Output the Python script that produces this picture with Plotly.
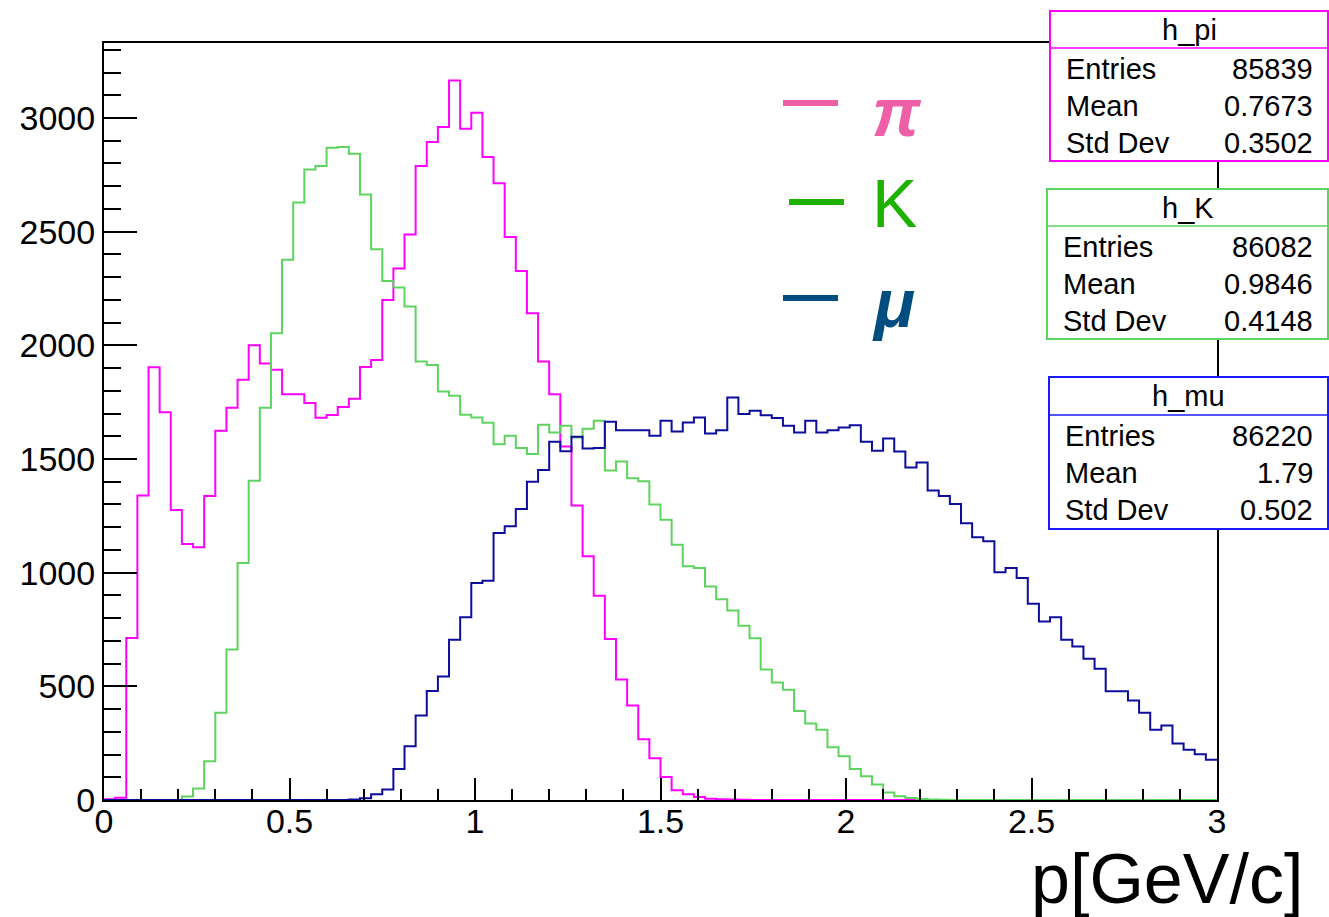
import numpy as np
import plotly.graph_objects as go

# ---------------- data ----------------
x_min, x_max, n_bins = 0.0, 3.0, 100

pi_counts = [3, 10, 713, 1340, 1904, 1706, 1276, 1126, 1112, 1337,
             1624, 1725, 1849, 2000, 1920, 1893, 1785, 1785, 1746, 1681,
             1694, 1729, 1765, 1905, 1935, 2200, 2338, 2488, 2789, 2895,
             2960, 3165, 2953, 3023, 2828, 2713, 2477, 2327, 2141, 1929,
             1785, 1555, 1295, 1072, 899, 708, 530, 416, 267, 184,
             101, 43, 25, 13, 6, 3, 2, 1, 0, 0,
             0, 0, 0, 0, 0, 0, 0, 0, 0, 0,
             0, 0, 0, 0, 0, 0, 0, 0, 0, 0,
             0, 0, 0, 0, 0, 0, 0, 0, 0, 0,
             0, 0, 0, 0, 0, 0, 0, 0, 0, 0]

k_counts = [0, 0, 0, 0, 0, 0, 0, 15, 51, 171,
            384, 662, 1043, 1404, 1725, 2053, 2376, 2628, 2774, 2789,
            2869, 2872, 2843, 2664, 2423, 2283, 2254, 2171, 1929, 1914,
            1797, 1778, 1695, 1683, 1660, 1565, 1602, 1548, 1522, 1651,
            1617, 1646, 1595, 1633, 1668, 1449, 1489, 1415, 1402, 1300,
            1233, 1123, 1028, 1021, 939, 883, 834, 766, 712, 574,
            517, 485, 391, 336, 309, 232, 192, 136, 104, 68,
            33, 16, 9, 4, 2, 1, 0, 0, 0, 0,
            0, 0, 0, 0, 0, 0, 0, 0, 0, 0,
            0, 0, 0, 0, 0, 0, 0, 0, 0, 0]

mu_counts = [0, 0, 0, 0, 0, 0, 0, 0, 0, 0,
             0, 0, 0, 0, 0, 0, 0, 0, 0, 0,
             0, 0, 2, 8, 25, 46, 136, 236, 372, 479,
             543, 705, 804, 955, 965, 1175, 1204, 1280, 1400, 1452,
             1576, 1534, 1598, 1546, 1548, 1664, 1627, 1627, 1627, 1602,
             1668, 1621, 1661, 1683, 1612, 1627, 1771, 1698, 1712, 1693,
             1680, 1646, 1617, 1668, 1617, 1627, 1639, 1649, 1576, 1536,
             1590, 1533, 1463, 1485, 1361, 1337, 1302, 1217, 1156, 1138,
             1002, 1021, 977, 863, 785, 804, 705, 675, 621, 577,
             478, 478, 438, 384, 309, 328, 248, 221, 201, 177]

hist_names = ["h_pi", "h_K", "h_mu"]
hist_colors = ["#ff00ff", "#5fd35f", "#0d0d9c"]
box_colors = ["#ff00ff", "#5fd35f", "#1a1aff"]
stat_labels = ["Entries", "Mean", "Std Dev"]
stat_values = [["85839", "0.7673", "0.3502"],
               ["86082", "0.9846", "0.4148"],
               ["86220", "1.79", "0.502"]]

legend_symbols = ["<i><b>π</b></i>", "K", "<i><b>μ</b></i>"]
legend_colors = ["#ef5fa7", "#1db100", "#004d80"]

x_ticks = [0, 0.5, 1, 1.5, 2, 2.5, 3]
x_ticktext = ["0", "0.5", "1", "1.5", "2", "2.5", "3"]
y_ticks = [0, 500, 1000, 1500, 2000, 2500, 3000]
x_title = "p[GeV/c]"

# ---------------- layout geometry (pixels) ----------------
W, H = 1329, 917
PL, PR, PT, PB = 104, 1217, 43, 800  # plot area in pixels


def px(xp):
    return (xp - PL) / (PR - PL)


def py(yp):
    return (PB - yp) / (PB - PT)


edges = np.linspace(x_min, x_max, n_bins + 1)

fig = go.Figure()
for name, counts, col in zip(hist_names, [pi_counts, k_counts, mu_counts], hist_colors):
    yv = list(counts) + [counts[-1]]
    fig.add_trace(go.Scatter(
        x=edges, y=yv, mode="lines", line=dict(color=col, width=2, shape="hv"),
        name=name, showlegend=False, hoverinfo="skip"))

font_fam = "Liberation Sans, Arial, sans-serif"

fig.update_layout(
    width=W, height=H, autosize=False,
    margin=dict(l=PL, r=W - PR, t=PT, b=H - PB, pad=0),
    paper_bgcolor="white", plot_bgcolor="white",
    font=dict(family=font_fam, color="black", size=34),
    xaxis=dict(range=[x_min, x_max], tickvals=x_ticks, ticktext=x_ticktext,
               ticks="inside", ticklen=22, tickwidth=1.5, tickcolor="black",
               minor=dict(ticks="inside", ticklen=11, dtick=0.1, tickwidth=1.5, tickcolor="black"),
               showline=True, linecolor="black", linewidth=2, mirror=True,
               showgrid=False, zeroline=False, ticklabelstandoff=-10,
               tickfont=dict(size=34, family=font_fam)),
    yaxis=dict(range=[0, 3330], tickvals=y_ticks,
               ticks="inside", ticklen=33, tickwidth=1.5, tickcolor="black",
               minor=dict(ticks="inside", ticklen=17, dtick=100, tickwidth=1.5, tickcolor="black"),
               showline=True, linecolor="black", linewidth=2, mirror=True,
               showgrid=False, zeroline=False,
               tickfont=dict(size=34, family=font_fam)),
)

shapes = []
annotations = []

# x-axis title
annotations.append(dict(xref="paper", yref="paper", x=px(1305), y=py(879),
                        xanchor="right", yanchor="middle", text=x_title, showarrow=False,
                        font=dict(size=70, family=font_fam, color="black")))

# stat boxes
boxes = [  # (left, top, bottom, separator) in pixels
    (1050, 11, 161, 48),
    (1047, 189, 339, 226),
    (1049, 377, 529, 415),
]
row_offsets = [21, 58, 95]
for (l, t, b, sep), name, col, vals in zip(boxes, hist_names, box_colors, stat_values):
    r = 1328
    shapes.append(dict(type="rect", xref="paper", yref="paper", layer="above",
                       x0=px(l), x1=px(r), y0=py(b), y1=py(t),
                       fillcolor="white", line=dict(color=col, width=2)))
    shapes.append(dict(type="line", xref="paper", yref="paper", layer="above",
                       x0=px(l), x1=px(r), y0=py(sep), y1=py(sep),
                       line=dict(color=col, width=1.5)))
    annotations.append(dict(xref="paper", yref="paper", x=px((l + r) / 2), y=py((t + sep) / 2),
                            xanchor="center", yanchor="middle", text=name, showarrow=False,
                            font=dict(size=29, family=font_fam, color="black")))
    for lab, val, off in zip(stat_labels, vals, row_offsets):
        annotations.append(dict(xref="paper", yref="paper", x=px(l + 14), y=py(sep + off),
                                xanchor="left", yanchor="middle", text=lab, showarrow=False,
                                font=dict(size=29, family=font_fam, color="black")))
        annotations.append(dict(xref="paper", yref="paper", x=px(1315), y=py(sep + off),
                                xanchor="right", yanchor="middle", text=val, showarrow=False,
                                font=dict(size=29, family=font_fam, color="black")))

# legend (dash + symbol)
leg_rows = [(783, 103, 112), (789, 202, 203), (783, 298, 303)]
for (dx, dy, ty), sym, col in zip(leg_rows, legend_symbols, legend_colors):
    shapes.append(dict(type="line", xref="paper", yref="paper", layer="above",
                       x0=px(dx), x1=px(dx + 55), y0=py(dy), y1=py(dy),
                       line=dict(color=col, width=6)))
    annotations.append(dict(xref="paper", yref="paper", x=px(870), y=py(ty),
                            xanchor="left", yanchor="middle", text=sym, showarrow=False,
                            font=dict(size=68, family=font_fam, color=col)))

fig.update_layout(shapes=shapes, annotations=annotations)
fig.write_html("out.html", config={"displayModeBar": False},
               post_script="document.body.style.margin='0';document.body.style.padding='0';")
